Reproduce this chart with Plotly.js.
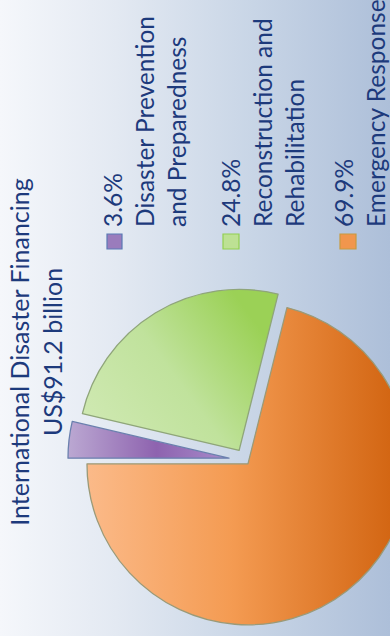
<!DOCTYPE html>
<html>
<head>
<meta charset="utf-8">
<script src="https://cdn.plot.ly/plotly-3.0.1.min.js"></script>
<style>
  html, body { margin: 0; padding: 0; width: 390px; height: 636px; overflow: hidden; }
  body { background: linear-gradient(to right, #f5f7fb 0%, #e3e9f2 30%, #c8d5e6 65%, #adbfd9 100%); position: relative; }
  #chart { position: absolute; left: 0; top: 0; width: 680px; height: 460px;
           transform-origin: 0 0; transform: translate(0px, 680px) rotate(-90deg); }
</style>
</head>
<body>
<div id="chart"></div>
<script>
// Data
const categories = ["Disaster Prevention and Preparedness", "Reconstruction and Rehabilitation", "Emergency Response"];
const legendLines = [
  ["3.6%", "Disaster Prevention", "and Preparedness"],
  ["24.8%", "Reconstruction and", "Rehabilitation"],
  ["69.9%", "Emergency Response"]
];
const shares = [3.6, 24.8, 69.9];
const titleLines = ["International Disaster Financing", "US$91.2 billion"];

// Styles
const sliceColors = ["#9a7cbc", "#bde194", "#f1964d"];
const sliceGradients = [
  [[0, "#bba8d2"], [0.55, "#8e63af"], [1, "#a88ccb"]],
  [[0, "#d2eab6"], [0.55, "#c0e29c"], [1, "#9bd156"]],
  [[0, "#fbba89"], [0.45, "#f49b52"], [1, "#cf600c"]]
];
const sliceLines = ["#6b80ae", "#8fa57a", "#9a9a78"];
const swatchLines = ["#5a7ab5", "#92d050", "#c89a40"];
const textColor = "#1d3a7c";
const W = 680, H = 460;
const legendFont = { family: "Lato, 'Open Sans', sans-serif", size: 24.5, color: textColor };
const titleFont = { family: "Lato, 'Open Sans', sans-serif", size: 25, color: textColor };

// pie geometry (div pixel coordinates before rotation)
const cx = 220, cyTop = 245, r = 161, maxPull = 0.1;
const half = r * (1 + maxPull);

const trace = {
  type: "pie",
  labels: categories,
  values: shares,
  sort: false,
  direction: "clockwise",
  rotation: 0,
  pull: [0.1, 0.07, 0.03],
  textinfo: "none",
  showlegend: false,
  marker: { colors: sliceColors, line: { color: sliceLines, width: 1.3 } },
  domain: { x: [(cx - half) / W, (cx + half) / W], y: [(H - cyTop - half) / H, (H - cyTop + half) / H] }
};

// legend (text + swatches)
const entryMid = [145, 262, 359.5];       // Y' centre of each text block
const entryX = 451;                        // X' where text starts
const swatchY = [[107, 122], [223, 239], [340, 356]];
const annotations = [];
const shapes = [];
legendLines.forEach((lines, i) => {
  annotations.push({
    xref: "paper", yref: "paper", x: entryX / W, y: (H - entryMid[i]) / H,
    xanchor: "left", yanchor: "middle", align: "left", showarrow: false,
    text: lines.join("<br>"), font: legendFont
  });
  shapes.push({
    type: "rect", xref: "paper", yref: "paper",
    x0: 431 / W, x1: 446 / W, y0: (H - swatchY[i][1]) / H, y1: (H - swatchY[i][0]) / H,
    fillcolor: sliceColors[i], line: { color: swatchLines[i], width: 1.2 }
  });
});

const layout = {
  width: W, height: H,
  margin: { l: 0, r: 0, t: 0, b: 0 },
  paper_bgcolor: "rgba(0,0,0,0)",
  plot_bgcolor: "rgba(0,0,0,0)",
  showlegend: false,
  title: { text: titleLines.join("<br>"), font: titleFont, x: 328 / W, xanchor: "center",
           y: (H - 29) / H, yanchor: "top", xref: "paper", yref: "container" },
  annotations: annotations,
  shapes: shapes
};

Plotly.newPlot("chart", [trace], layout, { displayModeBar: false, staticPlot: true }).then(function (gd) {
  // shade the slices with the reference's soft gradients
  const svg = gd.querySelector(".main-svg");
  const NS = "http://www.w3.org/2000/svg";
  let defs = svg.querySelector("defs");
  if (!defs) { defs = document.createElementNS(NS, "defs"); svg.insertBefore(defs, svg.firstChild); }
  sliceGradients.forEach((stops, i) => {
    const g = document.createElementNS(NS, "linearGradient");
    g.setAttribute("id", "sliceGrad" + i);
    g.setAttribute("x1", "0"); g.setAttribute("y1", "0");
    g.setAttribute("x2", i === 1 ? "0.6" : "0"); g.setAttribute("y2", "1");
    stops.forEach(s => {
      const st = document.createElementNS(NS, "stop");
      st.setAttribute("offset", s[0]);
      st.setAttribute("stop-color", s[1]);
      g.appendChild(st);
    });
    defs.appendChild(g);
  });
  const paths = gd.querySelectorAll("g.pielayer g.slice path.surface");
  paths.forEach((p, i) => { p.style.fill = "url(#sliceGrad" + i + ")"; });
});
</script>
</body>
</html>
